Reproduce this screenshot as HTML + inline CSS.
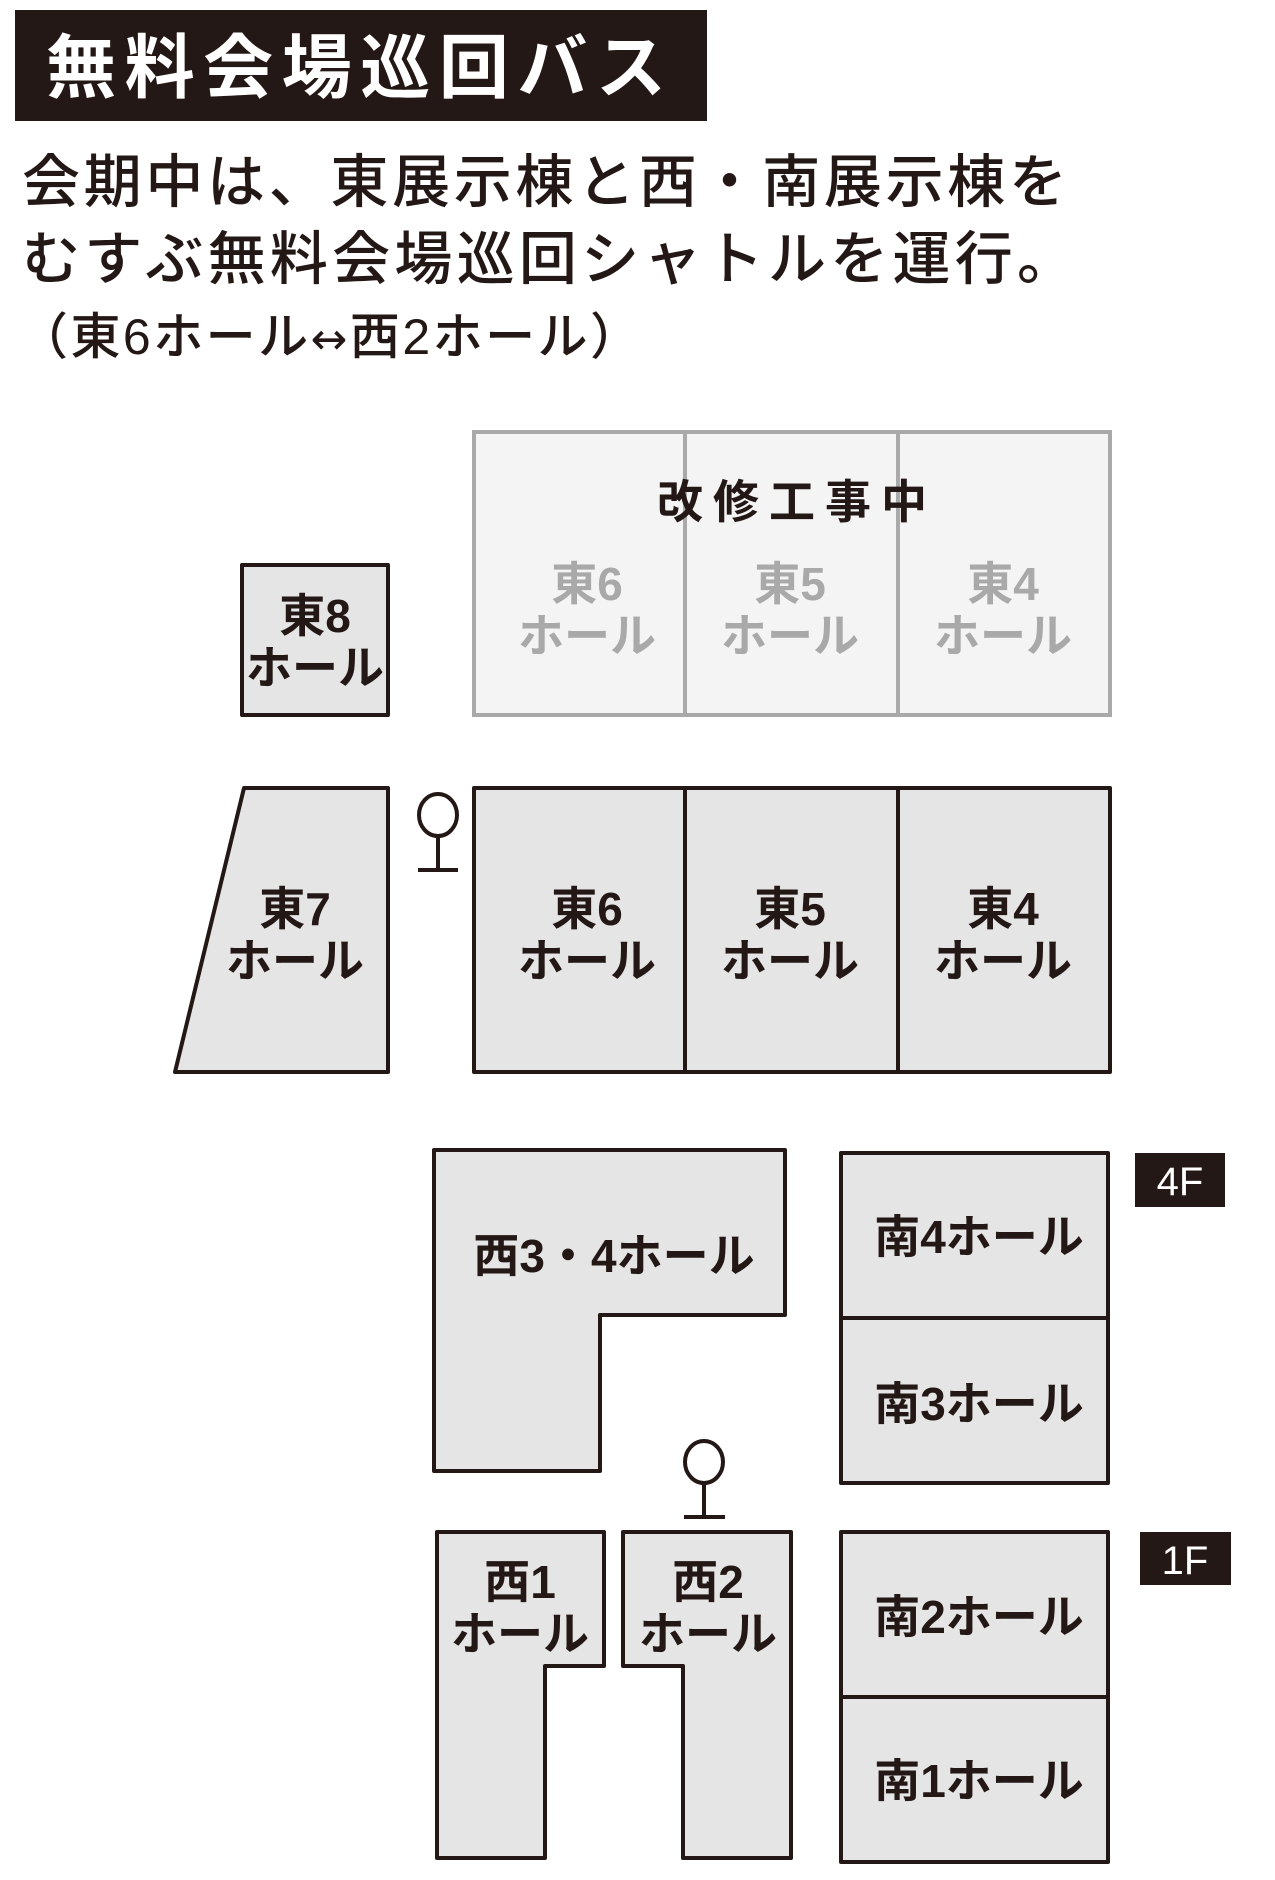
<!DOCTYPE html>
<html><head><meta charset="utf-8"><style>
html,body{margin:0;padding:0;background:#fff;}
svg{display:block;}
text{font-family:"Liberation Sans","Noto Sans CJK JP",sans-serif;}
.lb{font-weight:bold;font-size:46px;fill:#231815;text-anchor:middle;}
.gl{font-weight:bold;font-size:46px;fill:#a9a9a9;text-anchor:middle;}
.hall{fill:#e5e5e5;stroke:#231815;stroke-width:4;stroke-linejoin:round;}
.body{font-weight:500;fill:#231815;}
</style></head><body>
<svg width="1275" height="1880" viewBox="0 0 1275 1880" xmlns="http://www.w3.org/2000/svg">
<rect x="15" y="10" width="692" height="111" fill="#231815"/>
<text x="46" y="92" font-size="70" font-weight="bold" fill="#fff" textLength="620" lengthAdjust="spacing">無料会場巡回バス</text>
<text class="body" x="22" y="202" font-size="58" textLength="1045" lengthAdjust="spacing">会期中は、東展示棟と西・南展示棟を</text>
<text class="body" x="22" y="279" font-size="58" textLength="1053" lengthAdjust="spacing">むすぶ無料会場巡回シャトルを運行。</text>
<text class="body" x="18" y="354" font-size="50" textLength="622" lengthAdjust="spacing">（東6ホール<tspan font-family="DejaVu Sans" font-size="44">↔</tspan>西2ホール）</text>

<!-- construction -->
<rect x="474" y="432" width="636" height="283" fill="#f4f4f4" stroke="#a9a9a9" stroke-width="4"/>
<line x1="685" y1="432" x2="685" y2="715" stroke="#a9a9a9" stroke-width="4"/>
<line x1="898" y1="432" x2="898" y2="715" stroke="#a9a9a9" stroke-width="4"/>
<text x="797" y="518" font-size="46" font-weight="bold" fill="#231815" text-anchor="middle" letter-spacing="10">改修工事中</text>
<text class="gl" x="587" y="600">東6</text><text class="gl" x="587" y="652">ホール</text>
<text class="gl" x="790" y="600">東5</text><text class="gl" x="790" y="652">ホール</text>
<text class="gl" x="1003" y="600">東4</text><text class="gl" x="1003" y="652">ホール</text>

<!-- east 8 -->
<rect class="hall" x="242" y="565" width="146" height="150"/>
<text class="lb" x="315" y="632">東8</text><text class="lb" x="315" y="684">ホール</text>

<!-- east 7 -->
<polygon class="hall" points="244,788 388,788 388,1072 175,1072"/>
<text class="lb" x="295" y="925">東7</text><text class="lb" x="295" y="977">ホール</text>

<!-- bus stop 1 -->
<ellipse cx="438" cy="815" rx="19" ry="21" fill="#fff" stroke="#231815" stroke-width="4"/>
<line x1="438" y1="836" x2="438" y2="870" stroke="#231815" stroke-width="4"/>
<line x1="418" y1="870" x2="458" y2="870" stroke="#231815" stroke-width="4"/>

<!-- east row -->
<rect class="hall" x="474" y="788" width="636" height="284"/>
<line x1="685" y1="788" x2="685" y2="1072" stroke="#231815" stroke-width="4"/>
<line x1="898" y1="788" x2="898" y2="1072" stroke="#231815" stroke-width="4"/>
<text class="lb" x="587" y="925">東6</text><text class="lb" x="587" y="977">ホール</text>
<text class="lb" x="790" y="925">東5</text><text class="lb" x="790" y="977">ホール</text>
<text class="lb" x="1003" y="925">東4</text><text class="lb" x="1003" y="977">ホール</text>

<!-- west 3/4 -->
<polygon class="hall" points="434,1150 785,1150 785,1315 600,1315 600,1471 434,1471"/>
<text class="lb" x="614" y="1272">西3・4ホール</text>

<!-- south 4/3 -->
<rect class="hall" x="841" y="1153" width="267" height="330"/>
<line x1="841" y1="1318" x2="1108" y2="1318" stroke="#231815" stroke-width="4"/>
<text class="lb" x="979" y="1253">南4ホール</text>
<text class="lb" x="979" y="1420">南3ホール</text>
<rect x="1135" y="1153" width="90" height="54" fill="#231815"/>
<text x="1180" y="1195" font-size="40" fill="#fff" text-anchor="middle">4F</text>

<!-- bus stop 2 -->
<ellipse cx="704" cy="1462" rx="19" ry="21" fill="#fff" stroke="#231815" stroke-width="4"/>
<line x1="704" y1="1483" x2="704" y2="1517" stroke="#231815" stroke-width="4"/>
<line x1="684" y1="1517" x2="725" y2="1517" stroke="#231815" stroke-width="4"/>

<!-- west 1 / 2 -->
<polygon class="hall" points="437,1532 604,1532 604,1666 545,1666 545,1858 437,1858"/>
<text class="lb" x="520" y="1598">西1</text><text class="lb" x="520" y="1650">ホール</text>
<polygon class="hall" points="623,1532 791,1532 791,1858 683,1858 683,1666 623,1666"/>
<text class="lb" x="708" y="1598">西2</text><text class="lb" x="708" y="1650">ホール</text>

<!-- south 2/1 -->
<rect class="hall" x="841" y="1532" width="267" height="330"/>
<line x1="841" y1="1697" x2="1108" y2="1697" stroke="#231815" stroke-width="4"/>
<text class="lb" x="979" y="1633">南2ホール</text>
<text class="lb" x="979" y="1797">南1ホール</text>
<rect x="1140" y="1532" width="91" height="53" fill="#231815"/>
<text x="1185" y="1574" font-size="40" fill="#fff" text-anchor="middle">1F</text>
</svg>
</body></html>
